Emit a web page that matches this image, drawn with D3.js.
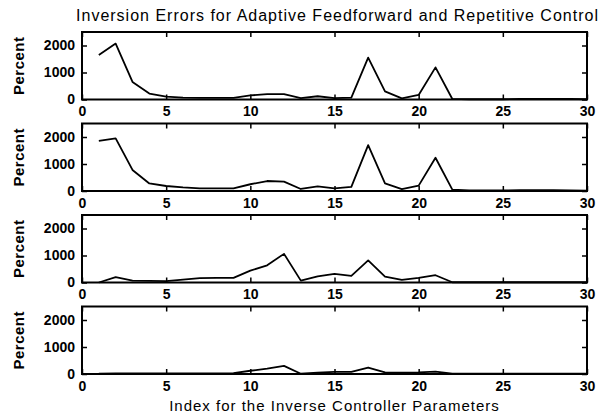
<!DOCTYPE html>
<html>
<head>
<meta charset="utf-8">
<script src="https://cdn.jsdelivr.net/npm/d3@7"></script>
<style>
  body { margin: 0; background: #fff; }
  text { font-family: "Liberation Sans", Arial, sans-serif; fill: #000; }
</style>
</head>
<body>
<svg width="611" height="417"></svg>
<script>
const index = d3.range(1, 31);
const panel1 = [1650, 2070, 650, 220, 110, 70, 60, 60, 60, 150, 200, 200, 50, 120, 50, 70, 1550, 300, 40, 170, 1190, 20, 10, 10, 10, 20, 20, 20, 20, 10];
const panel2 = [1860, 1950, 780, 280, 185, 135, 100, 100, 100, 250, 370, 345, 75, 170, 100, 150, 1700, 280, 70, 200, 1230, 50, 20, 20, 20, 30, 30, 30, 20, 10];
const panel3 = [0, 200, 70, 60, 50, 110, 160, 170, 170, 440, 635, 1060, 70, 230, 320, 245, 820, 220, 100, 170, 270, 10, 10, 10, 10, 10, 10, 10, 10, 10];
const panel4 = [10, 20, 20, 20, 20, 20, 20, 20, 30, 120, 200, 300, 10, 50, 80, 80, 240, 60, 50, 60, 90, 10, 10, 10, 10, 10, 10, 10, 10, 10];
const panels = [panel1, panel2, panel3, panel4];
const xTicks = [0, 5, 10, 15, 20, 25, 30];
const yTicks = [0, 1000, 2000];

const svg = d3.select('svg');
const margin = { left: 82, right: 24 };
const innerWidth = 611 - margin.left - margin.right;
const panelTop = [32, 123.5, 215, 306.5];
const panelHeight = 67.5;

const xScale = d3.scaleLinear().domain([0, 30]).range([0, innerWidth]);
const yScale = d3.scaleLinear().domain([0, 2500]).range([panelHeight, 0]);

const line = d3.line()
    .x((d, i) => xScale(index[i]))
    .y(d => yScale(d));

svg.append('text')
    .attr('x', margin.left + innerWidth / 2 + 3)
    .attr('y', 21)
    .attr('text-anchor', 'middle')
    .style('font-size', '16px')
    .style('letter-spacing', '1px')
    .text('Inversion Errors for Adaptive Feedforward and Repetitive Control');

panels.forEach((values, p) => {
    const g = svg.append('g')
        .attr('transform', `translate(${margin.left},${panelTop[p]})`);

    // inward ticks, MATLAB style
    g.append('g')
        .attr('transform', `translate(0,${panelHeight})`)
        .call(d3.axisBottom(xScale).tickValues(xTicks).tickSizeInner(-5).tickSizeOuter(0).tickPadding(7));
    g.append('g')
        .call(d3.axisTop(xScale).tickValues(xTicks).tickSizeInner(-5).tickSizeOuter(0).tickFormat(''));
    g.append('g')
        .call(d3.axisLeft(yScale).tickValues(yTicks).tickFormat(d3.format('d')).tickSizeInner(-5).tickSizeOuter(0).tickPadding(7));
    g.append('g')
        .attr('transform', `translate(${innerWidth},0)`)
        .call(d3.axisRight(yScale).tickValues(yTicks).tickSizeInner(-5).tickSizeOuter(0).tickFormat(''));

    g.selectAll('.domain').remove();
    g.selectAll('.tick line').attr('stroke', '#000').attr('stroke-width', 1.5);
    g.selectAll('.tick text').style('font-size', '14px').style('font-weight', 'bold')
        .style('font-family', '"Liberation Sans", Arial, sans-serif');

    g.append('rect')
        .attr('width', innerWidth)
        .attr('height', panelHeight)
        .attr('fill', 'none')
        .attr('stroke', '#000')
        .attr('stroke-width', 2);

    g.append('path')
        .datum(values)
        .attr('d', line)
        .attr('fill', 'none')
        .attr('stroke', '#000')
        .attr('stroke-width', 1.8)
        .attr('stroke-linejoin', 'round');

    g.append('text')
        .attr('transform', `translate(${24 - margin.left},${panelHeight / 2}) rotate(-90)`)
        .attr('text-anchor', 'middle')
        .style('font-size', '15px')
        .style('font-weight', 'bold')
        .style('letter-spacing', '0.5px')
        .text('Percent');
});

svg.append('text')
    .attr('x', margin.left + innerWidth / 2)
    .attr('y', 411)
    .attr('text-anchor', 'middle')
    .style('font-size', '15px')
    .style('letter-spacing', '1px')
    .text('Index for the Inverse Controller Parameters');
</script>
</body>
</html>
